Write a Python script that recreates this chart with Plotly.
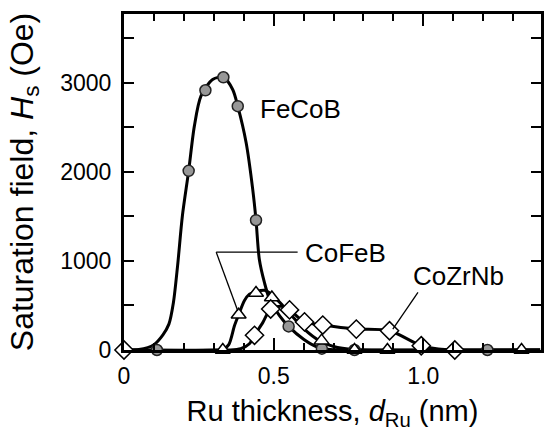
import plotly.graph_objects as go

# ---- data ----
# measured points (markers)
fecob_x = [0.11, 0.216, 0.272, 0.332, 0.38, 0.441, 0.55, 0.661, 0.77, 1.214]
fecob_y = [0, 2010, 2914, 3060, 2736, 1456, 265, 15, 0, 0]

cofeb_x = [0.33, 0.383, 0.441, 0.494, 0.66, 0.77, 0.88, 1.328]
cofeb_y = [0, 395, 640, 590, 105, 0, 0, 0]

cozrnb_x = [0.0, 0.436, 0.49, 0.553, 0.603, 0.664, 0.776, 0.887, 0.993, 1.105]
cozrnb_y = [0, 165, 460, 450, 315, 280, 235, 216, 48, 0]

# guide-to-the-eye curves
fecob_fit_x = [0.0, 0.05, 0.1, 0.13, 0.15, 0.165, 0.179, 0.195, 0.216, 0.235, 0.257,
               0.296, 0.332, 0.363, 0.38, 0.408, 0.43, 0.441, 0.452, 0.469, 0.486,
               0.52, 0.55, 0.6, 0.64, 0.68, 0.75, 1.39]
fecob_fit_y = [0, 5, 60, 170, 290, 530, 944, 1504, 2010, 2512, 2848,
               3035, 3060, 2923, 2736, 2326, 1803, 1456, 1019, 758, 571,
               384, 265, 120, 40, 8, 0, 0]

cofeb_fit_x = [0.0, 0.3, 0.33, 0.35, 0.369, 0.383, 0.402, 0.419, 0.441, 0.47, 0.494,
               0.53, 0.575, 0.6, 0.653, 0.7, 0.77, 0.85, 1.39]
cofeb_fit_y = [0, 0, 5, 60, 272, 395, 552, 627, 655, 670, 620,
               500, 330, 240, 104, 40, 5, 0, 0]

cozrnb_fit_x = [0.0, 0.35, 0.39, 0.419, 0.436, 0.464, 0.49, 0.525, 0.553, 0.603, 0.664,
                0.776, 0.887, 0.993, 1.05, 1.105, 1.39]
cozrnb_fit_y = [0, 0, 15, 70, 165, 310, 460, 490, 450, 315, 280,
                235, 216, 48, 10, 0, 0]

x_tickvals = [0, 0.5, 1.0]
x_ticktext = ["0", "0.5", "1.0"]
y_tickvals = [0, 1000, 2000, 3000]
y_ticktext = ["0", "1000", "2000", "3000"]

FONT = "Liberation Sans, Arial, Helvetica, sans-serif"

fig = go.Figure()

for fx, fy in [(fecob_fit_x, fecob_fit_y), (cofeb_fit_x, cofeb_fit_y), (cozrnb_fit_x, cozrnb_fit_y)]:
    fig.add_trace(go.Scatter(x=fx, y=fy, mode="lines",
                             line=dict(color="black", width=3, shape="spline", smoothing=0.8),
                             hoverinfo="skip", cliponaxis=False))

fig.add_trace(go.Scatter(x=fecob_x, y=fecob_y, mode="markers", cliponaxis=False,
                         marker=dict(symbol="circle", size=11, color="#979797",
                                     line=dict(color="#222222", width=1.5))))
fig.add_trace(go.Scatter(x=cofeb_x, y=cofeb_y, mode="markers", cliponaxis=False,
                         marker=dict(symbol="triangle-up", size=13, color="white",
                                     line=dict(color="black", width=1.5))))
fig.add_trace(go.Scatter(x=cozrnb_x, y=cozrnb_y, mode="markers", cliponaxis=False,
                         marker=dict(symbol="diamond", size=14, color="white",
                                     line=dict(color="black", width=1.5))))

# labels
fig.add_annotation(x=0.59, y=2700, text="FeCoB", showarrow=False,
                   font=dict(family=FONT, size=26, color="black"))
fig.add_annotation(x=0.739, y=1094, text="CoFeB", showarrow=False,
                   font=dict(family=FONT, size=26, color="black"))
fig.add_annotation(x=1.119, y=832, text="CoZrNb", showarrow=False,
                   font=dict(family=FONT, size=26, color="black"))

# leader lines
lw = dict(color="black", width=1.3)
fig.add_shape(type="line", x0=0.308, y0=1098, x1=0.58, y1=1098, line=lw)
fig.add_shape(type="line", x0=0.308, y0=1098, x1=0.38, y1=440, line=lw)
fig.add_shape(type="line", x0=0.982, y0=646, x1=0.898, y1=235, line=lw)

fig.update_xaxes(range=[0, 1.393], tickvals=x_tickvals, ticktext=x_ticktext,
                 automargin=False, ticklabelstandoff=3,
                 ticks="inside", ticklen=12, tickwidth=2, tickcolor="black",
                 minor=dict(dtick=0.1, ticks="inside", ticklen=7, tickwidth=2, tickcolor="black"),
                 showline=True, linewidth=3, linecolor="black", mirror="ticks",
                 showgrid=False, zeroline=False,
                 tickfont=dict(family=FONT, size=23, color="black"),
                 title=dict(text="Ru thickness, <i>d</i><sub>Ru</sub> (nm)",
                            font=dict(family=FONT, size=29, color="black"), standoff=22))
fig.update_yaxes(range=[0, 3770], tickvals=y_tickvals, ticktext=y_ticktext,
                 automargin=False, ticklabelstandoff=5,
                 ticks="inside", ticklen=10, tickwidth=2, tickcolor="black",
                 minor=dict(dtick=500, ticks="inside", ticklen=10, tickwidth=2, tickcolor="black"),
                 showline=True, linewidth=3, linecolor="black", mirror="ticks",
                 showgrid=False, zeroline=False,
                 tickfont=dict(family=FONT, size=23, color="black"),
                 title=dict(text="Saturation field, <i>H</i><sub>s</sub> (Oe)",
                            font=dict(family=FONT, size=32, color="black"), standoff=18))

fig.update_layout(width=548, height=431, showlegend=False,
                  margin=dict(l=124, r=7, t=14, b=81),
                  paper_bgcolor="white", plot_bgcolor="white",
                  font=dict(family=FONT, color="black"))

fig.write_html("out.html", config={"displayModeBar": False},
               post_script="document.body.style.margin='0px';")
